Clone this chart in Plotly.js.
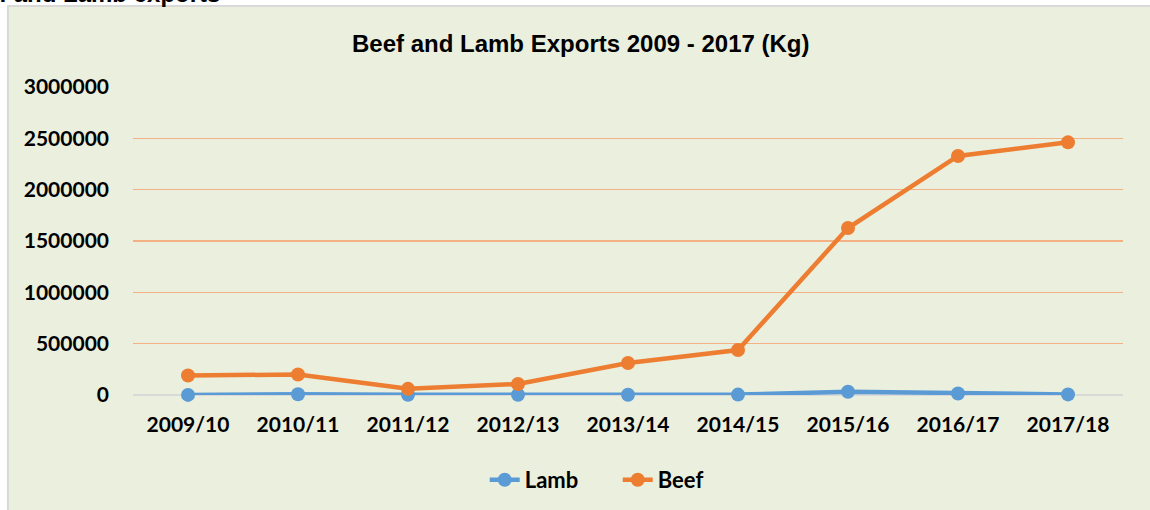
<!DOCTYPE html>
<html>
<head>
<meta charset="utf-8">
<script src="https://cdn.plot.ly/plotly-3.0.1.min.js"></script>
<style>
html,body{margin:0;padding:0;background:#ffffff;}
#chart{width:1150px;height:510px;}
</style>
</head>
<body>
<div id="chart"></div>
<script>
const years = ["2009/10","2010/11","2011/12","2012/13","2013/14","2014/15","2015/16","2016/17","2017/18"];
const lamb = [1000, 8000, 2000, 2000, 3000, 4000, 32000, 15000, 6000];
const beef = [190000, 200000, 60000, 107000, 312000, 438000, 1626000, 2328000, 2461000];
const chartTitle = "Beef and Lamb Exports 2009 - 2017 (Kg)";
const captionText = "Beef and Lamb exports";

const tickFont = {family: "Lato, Open Sans, sans-serif", size: 21, color: "#000000", weight: 700};
const legendFont = {family: "Lato, Open Sans, sans-serif", size: 22, color: "#000000", weight: 700};
const arialFont = {family: "Liberation Sans, Arial, sans-serif", size: 24, color: "#000000", weight: 700};

const traces = [
  {x: years, y: lamb, name: "Lamb", type: "scatter", mode: "lines+markers",
   line: {color: "#5B9BD5", width: 4.5}, marker: {color: "#5B9BD5", size: 14}, cliponaxis: false},
  {x: years, y: beef, name: "Beef", type: "scatter", mode: "lines+markers",
   line: {color: "#ED7D31", width: 4.5}, marker: {color: "#ED7D31", size: 14}, cliponaxis: false}
];

const layout = {
  width: 1150, height: 510,
  margin: {l: 133, r: 27, t: 87, b: 115},
  paper_bgcolor: "#ffffff",
  plot_bgcolor: "rgba(0,0,0,0)",
  title: {text: chartTitle, x: 0.505, xref: "container", xanchor: "center",
          y: 0.915, yref: "container", yanchor: "middle", font: arialFont},
  xaxis: {type: "category", range: [-0.5, 8.5], showgrid: false, zeroline: false, showline: false,
          ticks: "", tickfont: tickFont, ticklabelstandoff: 15, fixedrange: true},
  yaxis: {range: [0, 3000000], dtick: 500000, tickformat: "d", showgrid: true, gridcolor: "#F4B183", gridwidth: 1.5,
          zeroline: true, zerolinecolor: "#D9D9D9", zerolinewidth: 2, showline: false,
          ticks: "", tickfont: tickFont, ticklabelstandoff: 23, fixedrange: true},
  showlegend: true,
  legend: {orientation: "h", xref: "container", yref: "container", x: 0.4215, xanchor: "left",
           y: 0.059, yanchor: "middle", font: legendFont, bgcolor: "rgba(0,0,0,0)",
           entrywidth: 88, entrywidthmode: "pixels"},
  shapes: [
    {type: "rect", xref: "paper", yref: "paper", layer: "below",
     x0: -0.1263, x1: 1.04, y0: -0.45, y1: 1.263,
     fillcolor: "#EBEFDE", line: {color: "#D9D9D9", width: 2}}
  ],
  annotations: [
    {text: captionText, xref: "paper", yref: "paper", x: 0.0899, y: 1.2525,
     xanchor: "right", yanchor: "bottom", showarrow: false, font: arialFont}
  ]
};

Plotly.newPlot("chart", traces, layout, {displayModeBar: false, staticPlot: true});
</script>
</body>
</html>
